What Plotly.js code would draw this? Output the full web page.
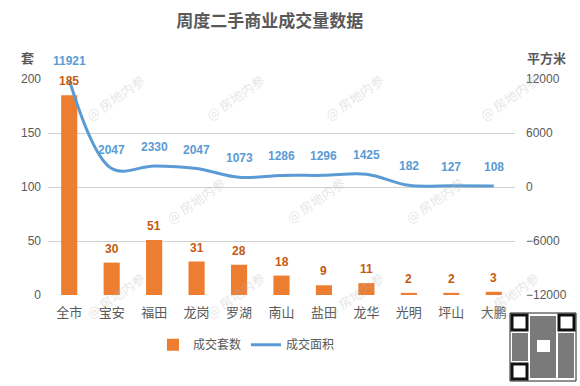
<!DOCTYPE html>
<html><head><meta charset="utf-8">
<script src="https://cdn.plot.ly/plotly-3.0.1.min.js"></script>
<style>body{margin:0;padding:0;background:#fff}#chart{width:580px;height:386px}</style>
</head><body><div id="chart"></div>
<script>
const categories = ['全市','宝安','福田','龙岗','罗湖','南山','盐田','龙华','光明','坪山','大鹏'];
const unitsSold = [185,30,51,31,28,18,9,11,2,2,3];
const areaSold = [11921,2047,2330,2047,1073,1286,1296,1425,182,127,108];
const leftTicks = [0,50,100,150,200];
const rightTicks = [-12000,-6000,0,6000,12000];

const FONT = 'Liberation Sans, "Noto Sans CJK SC", sans-serif';
const CJK = '"Noto Sans CJK SC", sans-serif';

const traces = [
  {type:'bar', name:'成交套数', x:categories, y:unitsSold, marker:{color:'#ed7d31'}, width:0.38},
  {type:'scatter', mode:'lines', name:'成交面积', x:categories, y:areaSold, yaxis:'y2',
   line:{color:'#5b9bd5', width:3, shape:'spline', smoothing:1}, cliponaxis:false}
];

const ann = [];
const wmPos = [[80,68],[235,68],[390,68],[545,68],[160,200],[315,200],[470,200],[80,325],[235,325],[390,325],[545,325]];
wmPos.forEach(p=>ann.push({xref:'paper',yref:'paper',x:(p[0]-48)/467,y:(295-p[1])/216,text:'@ 房地内参',showarrow:false,
  textangle:-35,font:{family:CJK,size:13,color:'rgba(180,180,180,0.35)'}}));
categories.forEach((c,i)=>{
  ann.push({x:c,y:unitsSold[i],xref:'x',yref:'y',text:String(unitsSold[i]),showarrow:false,yshift:14,
    font:{family:FONT,size:12,color:'#c55a11',weight:'bold'}});
  ann.push({x:c,y:areaSold[i],xref:'x',yref:'y2',text:String(areaSold[i]),showarrow:false,yshift:19,
    font:{family:FONT,size:12,color:'#5b9bd5',weight:'bold'}});
});
ann.push({xref:'paper',yref:'paper',x:(27-48)/467,y:(295-57)/216,text:'套',showarrow:false,xanchor:'center',yanchor:'middle',
     font:{family:CJK,size:13,color:'#595959',weight:'bold'}});
ann.push({xref:'paper',yref:'paper',x:(546-48)/467,y:(295-57)/216,text:'平方米',showarrow:false,xanchor:'center',yanchor:'middle',
     font:{family:CJK,size:13,color:'#595959',weight:'bold'}});

const px = v=>(v-48)/467, py = v=>(295-v)/216;
const shapes = [
  {type:'rect',xref:'paper',yref:'paper',x0:px(510),x1:px(576),y0:py(381),y1:py(313),fillcolor:'#fff',line:{color:'#222',width:1}},
  {type:'rect',xref:'paper',yref:'paper',x0:px(530),x1:px(556),y0:py(378),y1:py(316),fillcolor:'rgba(50,50,50,0.65)',line:{width:0}},
  {type:'rect',xref:'paper',yref:'paper',x0:px(512),x1:px(528),y0:py(361),y1:py(333),fillcolor:'rgba(50,50,50,0.65)',line:{width:0}},
  {type:'rect',xref:'paper',yref:'paper',x0:px(558),x1:px(574),y0:py(378),y1:py(333),fillcolor:'rgba(50,50,50,0.65)',line:{width:0}},
  {type:'rect',xref:'paper',yref:'paper',x0:px(512),x1:px(527),y0:py(330),y1:py(315),fillcolor:'#fff',line:{color:'#111',width:3}},
  {type:'rect',xref:'paper',yref:'paper',x0:px(559),x1:px(574),y0:py(330),y1:py(315),fillcolor:'#fff',line:{color:'#111',width:3}},
  {type:'rect',xref:'paper',yref:'paper',x0:px(512),x1:px(527),y0:py(379),y1:py(364),fillcolor:'#fff',line:{color:'#111',width:3}},
  {type:'rect',xref:'paper',yref:'paper',x0:px(537),x1:px(550),y0:py(352),y1:py(340),fillcolor:'#fff',line:{width:0}}
];

const layout = {
  width:580, height:386, margin:{l:48,r:65,t:79,b:91},
  paper_bgcolor:'#fff', plot_bgcolor:'#fff',
  title:{text:'周度二手商业成交量数据', x:0.465, xanchor:'center', y:0.945, yanchor:'middle',
    font:{family:CJK, size:17, color:'#595959', weight:'bold'}},
  showlegend:true,
  legend:{orientation:'h', x:0.425, xanchor:'center', y:-0.23, yanchor:'middle',
    font:{family:CJK, size:12, color:'#595959'}, traceorder:'normal'},
  xaxis:{type:'category', showgrid:false, zeroline:false, showline:false, ticks:'', ticklabelstandoff:8,
    tickfont:{family:CJK, size:13, color:'#595959'}},
  yaxis:{range:[0,200], tickvals:leftTicks, showgrid:true, gridcolor:'#d0d0d0', gridwidth:1,
    zeroline:false, showline:false, ticks:'', ticklabelstandoff:6, tickfont:{family:FONT, size:12, color:'#595959'}},
  yaxis2:{range:[-12000,12000], tickvals:rightTicks, ticktext:rightTicks.map(v=>v<0?'\u2212'+(-v):String(v)),
    overlaying:'y', side:'right', showgrid:false, zeroline:false, showline:false, ticks:'', ticklabelstandoff:10,
    tickfont:{family:FONT, size:12, color:'#595959'}},
  annotations: ann,
  shapes: shapes
};
Plotly.newPlot('chart', traces, layout, {displayModeBar:false, staticPlot:true});
</script></body></html>
